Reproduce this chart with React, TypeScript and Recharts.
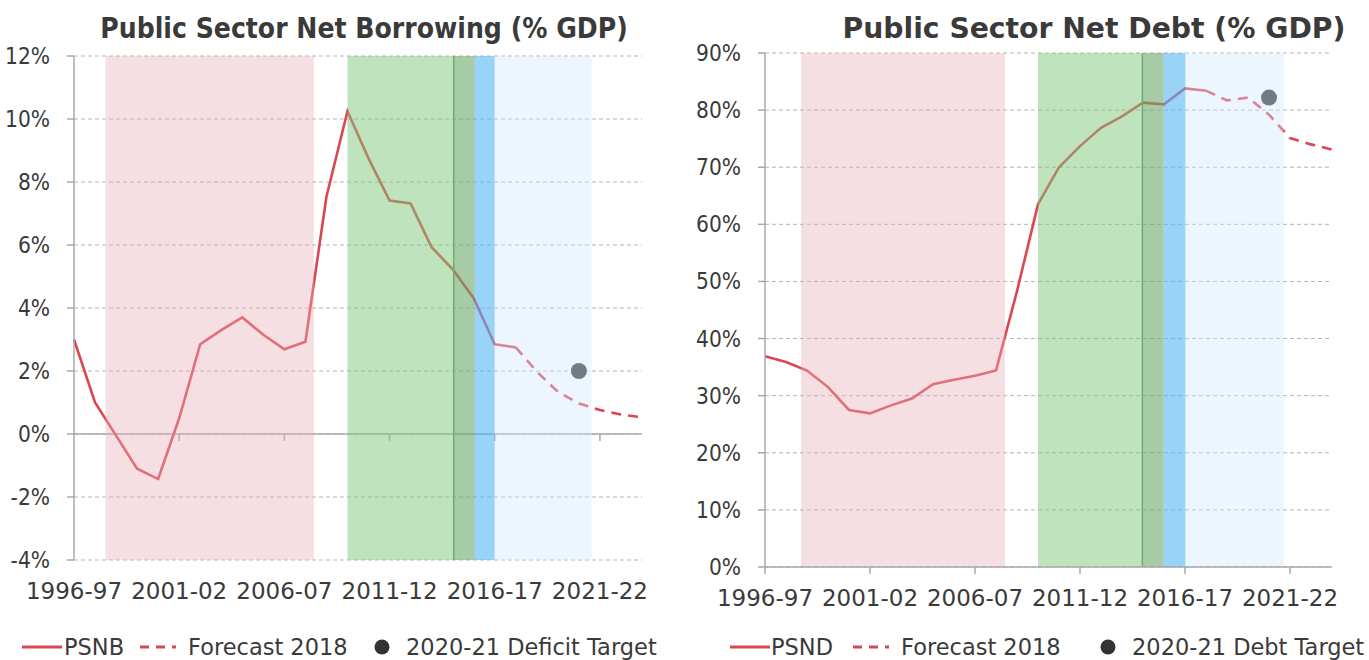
import React from "react";
import {
  ComposedChart,
  Line,
  XAxis,
  YAxis,
  CartesianGrid,
  ReferenceArea,
  ReferenceLine,
  ReferenceDot
} from "recharts";

const years = [
  "1996-97", "1997-98", "1998-99", "1999-00", "2000-01", "2001-02", "2002-03",
  "2003-04", "2004-05", "2005-06", "2006-07", "2007-08", "2008-09", "2009-10",
  "2010-11", "2011-12", "2012-13", "2013-14", "2014-15", "2015-16", "2016-17",
  "2017-18", "2018-19", "2019-20", "2020-21", "2021-22", "2022-23", "2023-24"
];
const xTicks = [0, 5, 10, 15, 20, 25];

// outturn, 1996-97 .. 2017-18
const psnbActual = [
  3.0, 1.0, -0.05, -1.1, -1.43, 0.5, 2.85, 3.3, 3.7, 3.15, 2.69, 2.93, 7.53,
  10.25, 8.75, 7.41, 7.32, 5.93, 5.23, 4.31, 2.85, 2.75
];
const psndActual = [
  36.9, 35.9, 34.4, 31.5, 27.5, 26.9, 28.3, 29.5, 32.0, 32.8, 33.5, 34.4, 48.3,
  63.5, 70.0, 73.7, 76.9, 78.9, 81.3, 81.0, 83.8, 83.4
];
// OBR forecast 2018, 2017-18 .. 2023-24
const forecastStart = 21;
const psnbForecast = [2.75, 1.98, 1.34, 0.97, 0.76, 0.62, 0.53];
const psndForecast = [83.4, 81.7, 82.2, 79.2, 75.1, 74.0, 73.1];

const targetYear = 24; // 2020-21
const deficitTarget = 2.0;
const debtTarget = 82.2;

const psnbTicks = [-4, -2, 0, 2, 4, 6, 8, 10, 12];
const psndTicks = [0, 10, 20, 30, 40, 50, 60, 70, 80, 90];

// government periods, in year index units
const psnbBands = [1.5, 11.4, 13, 18.05, 19.05, 20, 24.6];
const psndBands = [1.72, 11.43, 13, 17.97, 18.98, 20.02, 24.7];

const RED = "#dc4650";
const AXIS = "#a8a8a8";
const TEXT = "#3a3a3a";
const FONT = "'DejaVu Sans', sans-serif";
const FONT_NARROW = "'DejaVu Sans Condensed', 'DejaVu Sans', sans-serif";

function buildRows(actual: number[], forecast: number[]) {
  return years.map((label, i) => ({
    i,
    label,
    actual: i < actual.length ? actual[i] : null,
    forecast: i >= forecastStart ? forecast[i - forecastStart] : null
  }));
}

const XTick = (props: any) => (
  <text
    x={props.x}
    y={props.y + 24}
    textAnchor="middle"
    dominantBaseline="central"
    fill={TEXT}
    fontSize={23}
    fontFamily={FONT}
  >
    {years[props.payload.value]}
  </text>
);

const YTick = (props: any) => (
  <text
    x={props.x - 17}
    y={props.y}
    textAnchor="end"
    dominantBaseline="central"
    fill={TEXT}
    fontSize={22.5}
    fontFamily={FONT_NARROW}
  >
    {`${props.payload.value}%`}
  </text>
);

type PanelProps = {
  left: number;
  width: number;
  title: string;
  titleCenter: number;
  titleStretch: number;
  actual: number[];
  forecast: number[];
  target: number;
  yTicks: number[];
  bands: number[];
  margin: { top: number; right: number; left: number; bottom: number };
  zeroAxis: boolean;
  zeroTick: number;
};

function Panel({
  left, width, title, titleCenter, titleStretch, actual, forecast, target,
  yTicks, bands, margin, zeroAxis, zeroTick
}: PanelProps) {
  const rows = buildRows(actual, forecast);
  const yMin = yTicks[0];
  const yMax = yTicks[yTicks.length - 1];
  const [p1, p2, g1, o1, b1, b2, f2] = bands;
  return (
    <div style={{ position: "absolute", left, top: 0, width, height: 630 }}>
      <div
        style={{
          position: "absolute",
          left: titleCenter - 400,
          width: 800,
          top: 12,
          textAlign: "center",
          fontFamily: FONT_NARROW,
          fontWeight: "bold",
          fontSize: 28,
          color: TEXT,
          transform: `scaleX(${titleStretch})`
        }}
      >
        {title}
      </div>
      <ComposedChart width={width} height={630} data={rows} margin={margin}>
        <CartesianGrid vertical={false} stroke="#b4b4b4" strokeDasharray="4 3" />
        {zeroAxis && <ReferenceLine y={0} stroke={AXIS} strokeWidth={1.5} />}
        {zeroAxis &&
          xTicks.slice(1).map((t) => (
            <ReferenceLine
              key={t}
              segment={[{ x: t, y: 0 }, { x: t, y: -zeroTick }]}
              stroke={AXIS}
              strokeWidth={1.5}
            />
          ))}
        <Line
          dataKey="actual"
          type="linear"
          stroke={RED}
          strokeWidth={2.6}
          dot={false}
          isAnimationActive={false}
        />
        <Line
          dataKey="forecast"
          type="linear"
          stroke={RED}
          strokeWidth={2.6}
          strokeDasharray="10 7"
          dot={false}
          isAnimationActive={false}
        />
        <ReferenceDot x={targetYear} y={target} r={8} fill="#333333" stroke="none" zIndex={420} />
        <ReferenceArea x1={p1} x2={p2} y1={yMin} y2={yMax} fill="#e6b0b6" fillOpacity={0.4} stroke="none" zIndex={450} />
        <ReferenceArea x1={g1} x2={b1} y1={yMin} y2={yMax} fill="#7fc77b" fillOpacity={0.5} stroke="none" zIndex={450} />
        <ReferenceArea x1={o1} x2={b1} y1={yMin} y2={yMax} fill="#4d6e4a" fillOpacity={0.2} stroke="none" zIndex={451} />
        <ReferenceArea x1={b1} x2={b2} y1={yMin} y2={yMax} fill="#57b6f3" fillOpacity={0.6} stroke="none" zIndex={450} />
        <ReferenceArea x1={b2} x2={f2} y1={yMin} y2={yMax} fill="#d2e7fd" fillOpacity={0.4} stroke="none" zIndex={450} />
        <ReferenceLine x={o1} stroke="#6fae6c" strokeWidth={1.5} zIndex={452} />
        <XAxis
          dataKey="i"
          type="number"
          domain={[0, years.length - 1]}
          ticks={xTicks}
          interval={0}
          axisLine={zeroAxis ? false : { stroke: AXIS, strokeWidth: 1.5 }}
          tickLine={zeroAxis ? false : { stroke: AXIS, strokeWidth: 1.5 }}
          tickSize={7}
          tickMargin={0}
          tick={XTick}
          height={40}
        />
        <YAxis
          type="number"
          domain={[yMin, yMax]}
          ticks={yTicks}
          interval={0}
          axisLine={{ stroke: AXIS, strokeWidth: 1.5 }}
          tickLine={{ stroke: AXIS, strokeWidth: 1.5 }}
          tickSize={7}
          tickMargin={0}
          tick={YTick}
          width={zeroAxis ? 74 : 75}
        />
      </ComposedChart>
    </div>
  );
}

type LegendProps = {
  top: number;
  lineX: number;
  nameX: number;
  name: string;
  dashX: number;
  forecastX: number;
  dotX: number;
  targetX: number;
  targetLabel: string;
};

function LegendRow({ top, lineX, nameX, name, dashX, forecastX, dotX, targetX, targetLabel }: LegendProps) {
  const text: React.CSSProperties = {
    position: "absolute",
    top: top - 13,
    fontFamily: FONT,
    fontSize: 22.5,
    color: TEXT,
    lineHeight: "26px",
    whiteSpace: "nowrap"
  };
  return (
    <>
      <svg style={{ position: "absolute", left: 0, top: top - 10 }} width={1369} height={20}>
        <line x1={lineX} x2={lineX + 40} y1={10} y2={10} stroke={RED} strokeWidth={3} />
        <line x1={dashX} x2={dashX + 36} y1={10} y2={10} stroke={RED} strokeWidth={3} strokeDasharray="9 7" />
        <circle cx={dotX} cy={10} r={7.5} fill="#333333" />
      </svg>
      <span style={{ ...text, left: nameX }}>{name}</span>
      <span style={{ ...text, left: forecastX }}>Forecast 2018</span>
      <span style={{ ...text, left: targetX }}>{targetLabel}</span>
    </>
  );
}

export default function App() {
  return (
    <div style={{ position: "absolute", left: 0, top: 0, width: 1369, height: 660, background: "#fff" }}>
      <Panel
        left={0}
        width={680}
        title="Public Sector Net Borrowing (% GDP)"
        titleCenter={364}
        titleStretch={1.0}
        actual={psnbActual}
        forecast={psnbForecast}
        target={deficitTarget}
        yTicks={psnbTicks}
        bands={psnbBands}
        margin={{ top: 56, right: 38, left: 0, bottom: 30 }}
        zeroAxis={true}
        zeroTick={0.22}
      />
      <Panel
        left={690}
        width={679}
        title="Public Sector Net Debt (% GDP)"
        titleCenter={404}
        titleStretch={1.12}
        actual={psndActual}
        forecast={psndForecast}
        target={debtTarget}
        yTicks={psndTicks}
        bands={psndBands}
        margin={{ top: 53, right: 37, left: 0, bottom: 23 }}
        zeroAxis={false}
        zeroTick={0}
      />
      <LegendRow
        top={647}
        lineX={22}
        nameX={64}
        name="PSNB"
        dashX={140}
        forecastX={188}
        dotX={382}
        targetX={406}
        targetLabel="2020-21 Deficit Target"
      />
      <LegendRow
        top={647}
        lineX={730}
        nameX={771}
        name="PSND"
        dashX={853}
        forecastX={901}
        dotX={1108}
        targetX={1132}
        targetLabel="2020-21 Debt Target"
      />
    </div>
  );
}
